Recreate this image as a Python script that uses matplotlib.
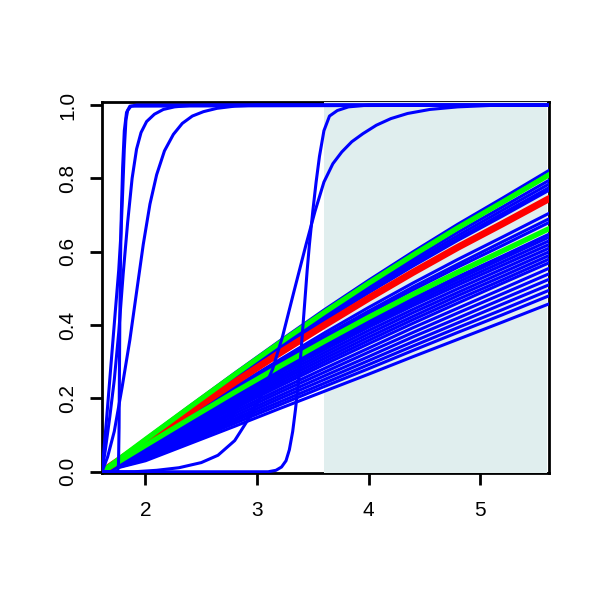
import matplotlib
matplotlib.use("Agg")
import matplotlib.pyplot as plt

plt.rcParams['font.family'] = ['Liberation Sans', 'DejaVu Sans']

# x positions used for the near-linear bundle of curves
bundle_x = [1.61, 2.0, 2.4, 2.8, 3.2, 3.6, 4.0, 4.4, 4.8, 5.2, 5.62]

# blue bundle (values read at bundle_x)
bundle_blue = [
    [0, 0.090, 0.180, 0.269, 0.356, 0.441, 0.522, 0.600, 0.675, 0.746, 0.822],
    [0, 0.087, 0.174, 0.260, 0.344, 0.426, 0.505, 0.580, 0.653, 0.722, 0.795],
    [0, 0.086, 0.172, 0.257, 0.340, 0.421, 0.498, 0.573, 0.644, 0.713, 0.785],
    [0, 0.084, 0.170, 0.253, 0.336, 0.415, 0.492, 0.566, 0.636, 0.704, 0.775],
    [0, 0.084, 0.168, 0.251, 0.333, 0.412, 0.488, 0.561, 0.631, 0.697, 0.768],
    [0, 0.077, 0.154, 0.231, 0.305, 0.378, 0.448, 0.515, 0.579, 0.640, 0.705],
    [0, 0.075, 0.151, 0.226, 0.299, 0.370, 0.438, 0.504, 0.566, 0.627, 0.690],
    [0, 0.074, 0.149, 0.222, 0.294, 0.364, 0.432, 0.496, 0.558, 0.617, 0.680],
    [0, 0.071, 0.142, 0.212, 0.281, 0.347, 0.411, 0.473, 0.532, 0.588, 0.648],
    [0, 0.070, 0.140, 0.209, 0.277, 0.343, 0.406, 0.467, 0.525, 0.581, 0.640],
    [0, 0.069, 0.138, 0.206, 0.273, 0.338, 0.400, 0.460, 0.517, 0.572, 0.630],
    [0, 0.068, 0.136, 0.203, 0.268, 0.332, 0.394, 0.453, 0.509, 0.563, 0.620],
    [0, 0.064, 0.131, 0.197, 0.261, 0.324, 0.385, 0.443, 0.499, 0.553, 0.610],
    [0, 0.061, 0.126, 0.191, 0.254, 0.316, 0.376, 0.434, 0.489, 0.543, 0.600],
    [0, 0.058, 0.122, 0.185, 0.247, 0.308, 0.367, 0.424, 0.480, 0.533, 0.590],
    [0, 0.055, 0.117, 0.179, 0.240, 0.300, 0.358, 0.415, 0.470, 0.523, 0.580],
    [0, 0.052, 0.113, 0.173, 0.233, 0.292, 0.349, 0.405, 0.460, 0.514, 0.570],
    [0, 0.048, 0.107, 0.166, 0.224, 0.281, 0.337, 0.393, 0.446, 0.499, 0.555],
    [0, 0.045, 0.102, 0.159, 0.216, 0.271, 0.326, 0.380, 0.433, 0.485, 0.540],
    [0, 0.042, 0.097, 0.152, 0.207, 0.261, 0.314, 0.368, 0.419, 0.471, 0.525],
    [0, 0.039, 0.092, 0.145, 0.199, 0.251, 0.303, 0.355, 0.406, 0.457, 0.510],
    [0, 0.036, 0.087, 0.139, 0.190, 0.241, 0.292, 0.343, 0.393, 0.442, 0.495],
    [0, 0.033, 0.083, 0.132, 0.182, 0.232, 0.281, 0.331, 0.380, 0.428, 0.480],
    [0, 0.030, 0.077, 0.124, 0.172, 0.219, 0.266, 0.314, 0.361, 0.408, 0.458],
]
red_y = [0, 0.081, 0.163, 0.244, 0.323, 0.399, 0.473, 0.544, 0.612, 0.676, 0.745]
green_y = [
    [0, 0.088, 0.177, 0.265, 0.351, 0.434, 0.514, 0.591, 0.665, 0.735, 0.810],
    [0, 0.072, 0.145, 0.217, 0.287, 0.355, 0.421, 0.484, 0.544, 0.602, 0.663],
]

# steep blue curves
a1_x = [1.61, 1.65, 1.69, 1.73, 1.76, 1.78, 1.795, 1.81, 1.825, 1.84, 1.87, 1.92, 5.62]
a1_y = [0, 0.14, 0.29, 0.44, 0.55, 0.65, 0.76, 0.88, 0.96, 0.985, 0.997, 1.0, 1.0]
a2_x = [1.61, 1.75, 1.758, 1.763, 1.767, 1.771, 1.776, 1.783, 1.795, 1.81, 1.83,
        1.86, 5.62]
a2_y = [0, 0, 0.02, 0.12, 0.3, 0.45, 0.58, 0.70, 0.83, 0.93, 0.98, 0.997, 1.0]
b_x = [1.61, 1.64, 1.68, 1.72, 1.76, 1.80, 1.84, 1.88, 1.92, 1.96, 2.01, 2.08,
       2.16, 2.26, 2.4, 2.6, 5.62]
b_y = [0, 0.06, 0.15, 0.25, 0.38, 0.54, 0.68, 0.80, 0.88, 0.925, 0.955, 0.975,
       0.988, 0.995, 0.999, 1.0, 1.0]
c_x = [1.61, 1.66, 1.72, 1.79, 1.86, 1.92, 1.98, 2.04, 2.10, 2.17, 2.25, 2.33,
       2.42, 2.52, 2.64, 2.8, 3.0, 5.62]
c_y = [0, 0.04, 0.11, 0.23, 0.36, 0.49, 0.62, 0.73, 0.81, 0.875, 0.92, 0.95,
       0.97, 0.982, 0.991, 0.997, 1.0, 1.0]
s1_x = [1.61, 1.9, 2.1, 2.3, 2.5, 2.65, 2.8, 2.93, 3.04, 3.14, 3.23, 3.33, 3.44,
        3.52, 3.6, 3.68, 3.76, 3.85, 3.95, 4.07, 4.2, 4.35, 4.55, 4.8, 5.1, 5.62]
s1_y = [0, 0, 0.004, 0.011, 0.025, 0.045, 0.085, 0.147, 0.21, 0.28, 0.37, 0.49,
        0.62, 0.71, 0.79, 0.84, 0.872, 0.9, 0.922, 0.945, 0.963, 0.977, 0.988,
        0.995, 0.999, 1.0]
s2_x = [1.61, 3.1, 3.17, 3.22, 3.26, 3.29, 3.32, 3.345, 3.37, 3.39, 3.41, 3.43,
        3.45, 3.47, 3.5, 3.53, 3.56, 3.6, 3.65, 3.72, 3.82, 4.0, 5.62]
s2_y = [0, 0, 0.004, 0.013, 0.03, 0.06, 0.11, 0.17, 0.24, 0.31, 0.39, 0.47,
        0.55, 0.62, 0.71, 0.79, 0.86, 0.93, 0.97, 0.985, 0.995, 1.0, 1.0]

shade_x = [3.6, 5.6]

fig = plt.figure(figsize=(6, 6), dpi=100)
ax = fig.add_axes([0.17, 0.2125, 0.7442, 0.6167])
ax.set_xlim(1.61, 5.614)
ax.set_ylim(-0.002, 1.007)

for s in ax.spines.values():
    s.set_linewidth(2.0)
ax.spines['right'].set_zorder(3)

ax.axvspan(shade_x[0], shade_x[1], ymin=0, ymax=1, color='#E0EEEE', lw=0, zorder=2.6)

blue = '#0000FF'
for yy in bundle_blue:
    ax.plot(bundle_x, yy, color=blue, lw=2.2, zorder=4)
ax.plot(bundle_x, red_y, color='#FF0000', lw=5.0, zorder=5)
for yy in green_y:
    ax.plot(bundle_x, yy, color='#00FF00', lw=3.8, zorder=6)

for xx, yy in [(a1_x, a1_y), (a2_x, a2_y), (b_x, b_y), (c_x, c_y),
               (s1_x, s1_y), (s2_x, s2_y)]:
    ax.plot(xx, yy, color=blue, lw=2.2, zorder=7)

ax.set_xticks([2, 3, 4, 5])
ax.set_yticks([0, 0.2, 0.4, 0.6, 0.8, 1.0])
ax.set_yticklabels(['0.0', '0.2', '0.4', '0.6', '0.8', '1.0'])
ax.tick_params(axis='both', direction='out', length=8.6, width=2.0,
               labelsize=15)
ax.tick_params(axis='x', pad=12)
ax.tick_params(axis='y', pad=9, labelrotation=90)
for lab in ax.get_yticklabels():
    lab.set_va('center')

fig.savefig('out.png', dpi=100)
